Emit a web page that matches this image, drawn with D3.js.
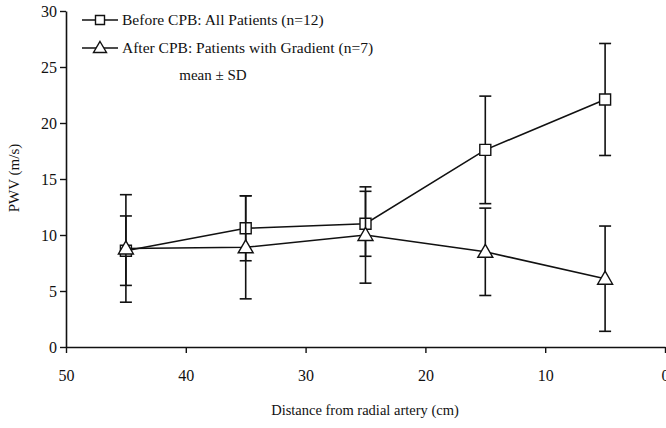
<!DOCTYPE html>
<html>
<head>
<meta charset="utf-8">
<script src="https://cdn.jsdelivr.net/npm/d3@7"></script>
<style>
  body { margin: 0; background: #fff; }
</style>
</head>
<body>
<div id="chart-container"></div>
<script>
// PWV along the arterial tree, before vs after CPB (mean ± SD)

const distances = [45, 35, 25, 15, 5];
const beforeMean = [8.6, 10.6, 11.0, 17.6, 22.1];
const beforeSD = [3.1, 2.9, 2.9, 4.8, 5.0];
const afterMean = [8.8, 8.9, 10.0, 8.5, 6.1];
const afterSD = [4.8, 4.6, 4.3, 3.9, 4.7];
const xTicks = [50, 40, 30, 20, 10, 0];
const yTicks = [0, 5, 10, 15, 20, 25, 30];

const serif = "'Liberation Serif', 'Times New Roman', 'DejaVu Serif', serif";

const svgWidth = 666;
const svgHeight = 428;

const svg = d3.select("#chart-container")
    .append("svg")
    .attr("width", svgWidth)
    .attr("height", svgHeight)
    .attr("font-family", serif);

const scaleX = d3.scaleLinear().domain([50, 0]).range([66, 665]);
const scaleY = d3.scaleLinear().domain([0, 30]).range([347, 11]);

// axes
const xAxis = svg.append("g")
    .attr("transform", "translate(0,347)")
    .call(d3.axisBottom(scaleX).tickValues(xTicks).tickSize(6).tickSizeOuter(0));
const yAxis = svg.append("g")
    .attr("transform", "translate(66,0)")
    .call(d3.axisLeft(scaleY).tickValues(yTicks).tickSize(6).tickSizeOuter(0));

[xAxis, yAxis].forEach(function(ax) {
    ax.attr("font-family", serif);
    ax.select(".domain").attr("stroke", "#111").attr("stroke-width", 1.6);
    ax.selectAll(".tick line").attr("stroke", "#111").attr("stroke-width", 1.4);
    ax.selectAll(".tick text").attr("font-size", "16px").attr("fill", "#111")
        .attr("font-family", serif);
});
xAxis.selectAll(".tick text").attr("dy", "1.55em");
yAxis.selectAll(".tick text").attr("x", -9);

// axis titles
svg.append("text")
    .attr("x", 365)
    .attr("y", 415)
    .attr("text-anchor", "middle")
    .attr("font-size", "14.5px")
    .attr("fill", "#111")
    .text("Distance from radial artery (cm)");

svg.append("text")
    .attr("transform", "translate(19,178) rotate(-90)")
    .attr("text-anchor", "middle")
    .attr("font-size", "15px")
    .attr("fill", "#111")
    .text("PWV (m/s)");

const series = [
    { name: "Before CPB: All Patients (n=12)", mean: beforeMean, sd: beforeSD, shape: "square" },
    { name: "After CPB: Patients with Gradient (n=7)", mean: afterMean, sd: afterSD, shape: "triangle" }
];

const squarePath = d3.symbol().type(d3.symbolSquare).size(121)();
const trianglePath = "M0,-7.5L7.5,5.5L-7.5,5.5Z";
const legendTri = "M0,-6.5L6.5,4.5L-6.5,4.5Z";

const line = d3.line()
    .x(d => scaleX(d.x))
    .y(d => scaleY(d.y));

series.forEach(function(s) {
    const pts = distances.map((x, i) => ({ x: x, y: s.mean[i], sd: s.sd[i] }));
    const g = svg.append("g");

    // error bars
    const eb = g.selectAll("g.err").data(pts).enter().append("g");
    eb.append("line")
        .attr("x1", d => scaleX(d.x)).attr("x2", d => scaleX(d.x))
        .attr("y1", d => scaleY(d.y + d.sd)).attr("y2", d => scaleY(d.y - d.sd))
        .attr("stroke", "#111").attr("stroke-width", 1.6);
    [1, -1].forEach(function(sign) {
        eb.append("line")
            .attr("x1", d => scaleX(d.x) - 6).attr("x2", d => scaleX(d.x) + 6)
            .attr("y1", d => scaleY(d.y + sign * d.sd)).attr("y2", d => scaleY(d.y + sign * d.sd))
            .attr("stroke", "#111").attr("stroke-width", 1.6);
    });

    g.append("path")
        .datum(pts)
        .attr("d", line)
        .attr("fill", "none")
        .attr("stroke", "#111")
        .attr("stroke-width", 1.6);

    g.selectAll("path.mark").data(pts).enter().append("path")
        .attr("class", "mark")
        .attr("transform", d => `translate(${scaleX(d.x)},${scaleY(d.y)})`)
        .attr("d", s.shape === "square" ? squarePath : trianglePath)
        .attr("fill", "#fff")
        .attr("stroke", "#111")
        .attr("stroke-width", 1.4);
});

// legend
const legendG = svg.append("g");
series.forEach(function(s, i) {
    const row = legendG.append("g").attr("transform", `translate(0, ${20 + i * 28})`);
    row.append("line").attr("x1", 82).attr("x2", 118).attr("y1", 0).attr("y2", 0)
        .attr("stroke", "#111").attr("stroke-width", 1.6);
    row.append("path")
        .attr("transform", "translate(100,0)")
        .attr("d", s.shape === "square" ? d3.symbol().type(d3.symbolSquare).size(81)() : legendTri)
        .attr("fill", "#fff").attr("stroke", "#111").attr("stroke-width", 1.4);
    row.append("text").attr("x", 122).attr("y", 5).attr("font-size", "15.5px")
        .attr("fill", "#111").text(s.name);
});

legendG.append("text")
    .attr("x", 213)
    .attr("y", 80)
    .attr("text-anchor", "middle")
    .attr("font-size", "15px")
    .attr("fill", "#111")
    .text("mean ± SD");
</script>
</body>
</html>
